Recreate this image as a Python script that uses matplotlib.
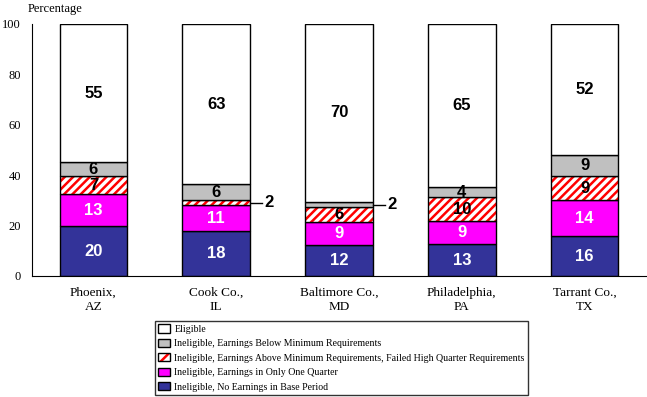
import matplotlib
matplotlib.use("Agg")
import matplotlib.pyplot as plt
from matplotlib.patches import Patch
import numpy as np

# Datos (porcentajes)
sitios = ["Phoenix,\nAZ", "Cook Co.,\nIL", "Baltimore Co.,\nMD", "Philadelphia,\nPA", "Tarrant Co.,\nTX"]
sin_ingresos = [19.7, 17.7, 12.2, 12.6, 15.8]
un_trimestre = [12.7, 10.3, 9.1, 9.1, 14.2]
falla_trimestre_alto = [7.3, 2.0, 6.0, 9.5, 9.6]
bajo_minimo = [5.4, 6.5, 2.1, 4.0, 8.4]
elegible = [54.9, 63.5, 70.6, 64.8, 52.0]

et_sin_ingresos = ["20", "18", "12", "13", "16"]
et_un_trimestre = ["13", "11", "9", "9", "14"]
et_falla = ["7", "2", "6", "10", "9"]
et_bajo = ["6", "6", "2", "4", "9"]
et_elegible = ["55", "63", "70", "65", "52"]

nombres = [
    "Eligible",
    "Ineligible, Earnings Below Minimum Requirements",
    "Ineligible, Earnings Above Minimum Requirements, Failed High Quarter Requirements",
    "Ineligible, Earnings in Only One Quarter",
    "Ineligible, No Earnings in Base Period",
]

plt.rcParams["hatch.linewidth"] = 1.8

fig = plt.figure(figsize=(6.47, 3.97), dpi=100)
ax = fig.add_axes([32 / 647, 121 / 397, 614 / 647, 252 / 397])

x = np.arange(len(sitios))
w = 0.55
b1 = np.array(sin_ingresos)
b2 = b1 + np.array(un_trimestre)
b3 = b2 + np.array(falla_trimestre_alto)
b4 = b3 + np.array(bajo_minimo)

ax.bar(x, sin_ingresos, w, color="#333399", edgecolor="black", linewidth=1)
ax.bar(x, un_trimestre, w, bottom=b1, color="#FF00FF", edgecolor="black", linewidth=1)
ax.bar(x, falla_trimestre_alto, w, bottom=b2, color="white", edgecolor="#FF0000", hatch="////", linewidth=0)
ax.bar(x, falla_trimestre_alto, w, bottom=b2, fill=False, edgecolor="black", linewidth=1)
ax.bar(x, bajo_minimo, w, bottom=b3, color="#C0C0C0", edgecolor="black", linewidth=1)
ax.bar(x, elegible, w, bottom=b4, color="white", edgecolor="black", linewidth=1)

fuente = dict(fontsize=12, fontweight="bold", family="Liberation Sans", ha="center", va="center")
for i in range(len(sitios)):
    ax.text(x[i], sin_ingresos[i] / 2, et_sin_ingresos[i], color="white", **fuente)
    ax.text(x[i], b1[i] + un_trimestre[i] / 2, et_un_trimestre[i], color="white", **fuente)
    ax.text(x[i], b4[i] + elegible[i] / 2, et_elegible[i], color="black", **fuente)
    # segmentos pequenos: etiqueta fuera con linea guia
    if falla_trimestre_alto[i] < 3:
        yc = b2[i] + falla_trimestre_alto[i] / 2
        ax.plot([x[i] + w / 2, x[i] + w / 2 + 0.1], [yc, yc], color="black", lw=1, clip_on=False)
        ax.text(x[i] + w / 2 + 0.12, yc, et_falla[i], color="black", **{**fuente, "ha": "left"})
    else:
        ax.text(x[i], b2[i] + falla_trimestre_alto[i] / 2, et_falla[i], color="black", **fuente)
    if bajo_minimo[i] < 3:
        yc = b3[i] + bajo_minimo[i] / 2
        ax.plot([x[i] + w / 2, x[i] + w / 2 + 0.1], [yc, yc], color="black", lw=1, clip_on=False)
        ax.text(x[i] + w / 2 + 0.12, yc, et_bajo[i], color="black", **{**fuente, "ha": "left"})
    else:
        ax.text(x[i], b3[i] + bajo_minimo[i] / 2, et_bajo[i], color="black", **fuente)

ax.set_xlim(-0.5, 4.5)
ax.set_ylim(0, 100)
ax.set_yticks([0, 20, 40, 60, 80, 100])
ax.set_xticks(x)
ax.set_xticklabels(sitios, family="Liberation Serif", fontsize=9.5, linespacing=1.25)
for lab in ax.get_yticklabels():
    lab.set_family("Liberation Serif")
    lab.set_fontsize(9)
ax.tick_params(axis="both", length=0)
ax.tick_params(axis="x", pad=8)
ax.tick_params(axis="y", pad=8)
ax.spines["top"].set_visible(False)
ax.spines["right"].set_visible(False)
fig.text(28 / 647, 1 - 3 / 397, "Percentage", family="Liberation Serif",
         fontsize=9, ha="left", va="top")

# Leyenda
h_eleg = Patch(facecolor="white", edgecolor="black")
h_bajo = Patch(facecolor="#C0C0C0", edgecolor="black")
h_falla = (Patch(facecolor="white", edgecolor="#FF0000", hatch="///", linewidth=0),
           Patch(fill=False, edgecolor="black"))
h_uno = Patch(facecolor="#FF00FF", edgecolor="black")
h_sin = Patch(facecolor="#333399", edgecolor="black")
leg = fig.legend([h_eleg, h_bajo, h_falla, h_uno, h_sin], nombres,
                 loc="upper left", bbox_to_anchor=(155 / 647, 1 - 321 / 397),
                 prop={"family": "Liberation Serif", "size": 7.1},
                 frameon=True, fancybox=False, borderpad=0.35, labelspacing=0.5,
                 handlelength=1.2, handleheight=0.9, handletextpad=0.4, borderaxespad=0)
leg.get_frame().set_edgecolor("black")
leg.get_frame().set_linewidth(1)

plt.savefig("out.png", dpi=100)
